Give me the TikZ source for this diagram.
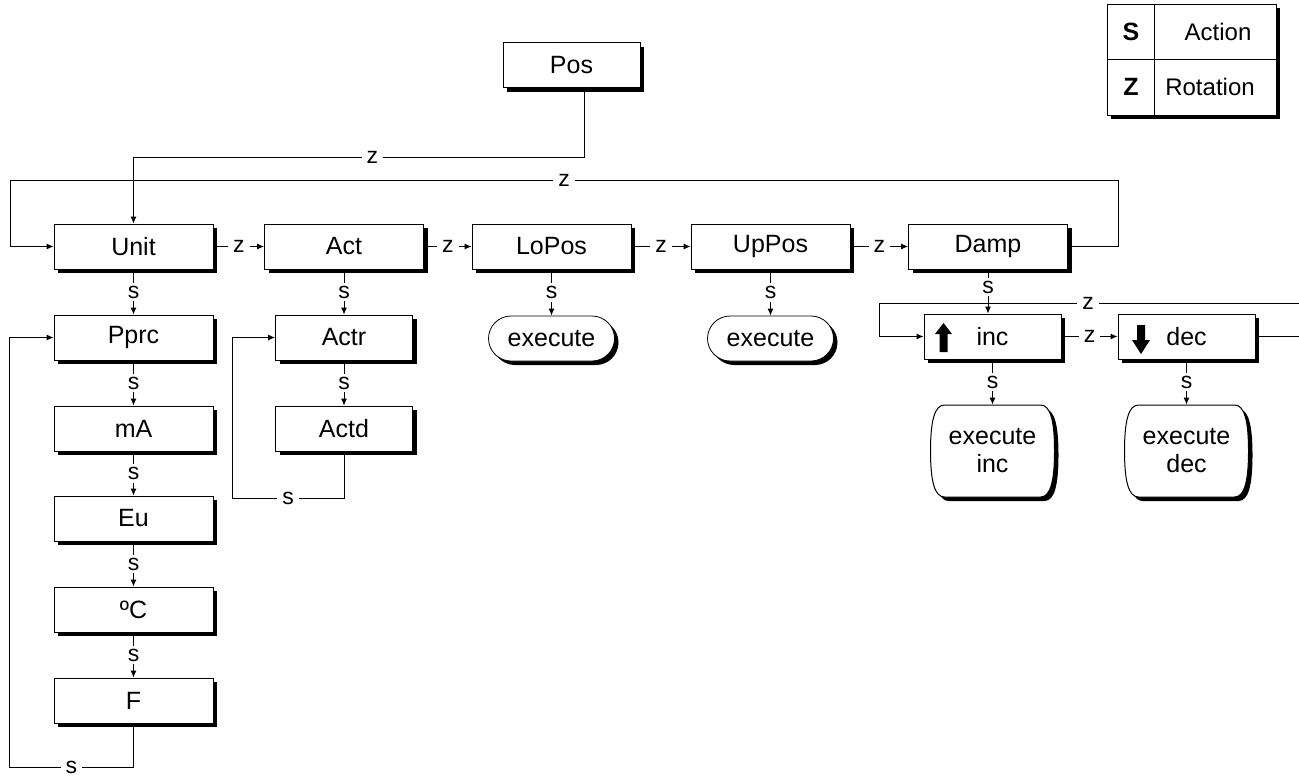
\documentclass[tikz,border=0pt]{standalone}
\usepackage{fontspec}
\setmainfont{Liberation Sans}
\usetikzlibrary{arrows.meta,shadows}

\begin{document}
\begin{tikzpicture}[x=0.5pt,y=-0.5pt,
 box/.style={draw,fill=white,minimum width=79.5pt,minimum height=22.5pt,inner sep=0pt,
  font=\fontsize{12.5}{14}\selectfont,
  drop shadow={shadow xshift=2pt,shadow yshift=-2pt,fill=black,opacity=1}},
 sbox/.style={box,minimum width=68.5pt},
 exe/.style={box,rounded corners=11.25pt,minimum width=63pt},
 txt/.style={align=center,minimum width=62pt,minimum height=46pt,font=\fontsize{12.5}{14}\selectfont},
 lbl/.style={fill=white,inner xsep=2.5pt,inner ysep=1.5pt,font=\fontsize{11.5}{12}\selectfont},
 conn/.style={-{Latex[length=3.5pt,width=3pt]},line width=0.5pt},
 barrel/.pic={
  \fill[black,shift={(4,4)}] (-48,-46) -- (48,-46) .. controls (58,-46) and (62,-30) .. (62,0)
   .. controls (62,30) and (58,46) .. (48,46) -- (-48,46) .. controls (-58,46) and (-62,30) .. (-62,0)
   .. controls (-62,-30) and (-58,-46) .. cycle;
  \draw[fill=white,line width=0.5pt] (-48,-46) -- (48,-46) .. controls (58,-46) and (62,-30) .. (62,0)
   .. controls (62,30) and (58,46) .. (48,46) -- (-48,46) .. controls (-58,46) and (-62,30) .. (-62,0)
   .. controls (-62,-30) and (-58,-46) .. cycle;
 }]
 \useasboundingbox (0,0) rectangle (1299,777);
 \clip (0,0) rectangle (1299,777);

 % key
 \node[box,minimum width=84.5pt,minimum height=55.5pt] (key) at (1191.5,59.5) {};
 \coordinate (kd) at (1154,0);
 \draw (key.west) -- (key.east);
 \draw (key.north -| kd) -- (key.south -| kd);
 \node[font=\bfseries\fontsize{12.5}{14}\selectfont] (kS) at (1131,32) {S};
 \node[font=\bfseries\fontsize{12.5}{14}\selectfont] (kZ) at (1131,87) {Z};
 \node[font=\fontsize{12}{14}\selectfont] (kA) at (1218,32) {Action};
 \node[font=\fontsize{12}{14}\selectfont] (kR) at (1210,87) {Rotation};

 % main row
 \node[sbox] (Pos) at (571.5,65) {Pos};
 \node[box] (Unit) at (133.5,246.5) {Unit};
 \node[box] (Act) at (344,246.5) {Act};
 \node[box] (LoPos) at (551.5,246.5) {LoPos};
 \node[box] (UpPos) at (770.5,246.5) {UpPos};
 \node[box] (Damp) at (988,246.5) {Damp};

 % unit column
 \node[box] (Pprc) at (133.5,337.5) {Pprc};
 \node[box] (mA) at (133.5,428.5) {mA};
 \node[box] (Eu) at (133.5,518.5) {Eu};
 \node[box] (degC) at (133.5,609.5) {ºC};
 \node[box] (F) at (133.5,700.5) {F};

 % act column
 \node[sbox] (Actr) at (344,337.5) {Actr};
 \node[sbox] (Actd) at (344,428.5) {Actd};

 % execute
 \node[exe] (loexe) at (551.5,338.5) {execute};
 \node[exe] (upexe) at (770.5,338.5) {execute};

 % damping
 \node[sbox] (inc) at (992.5,336.5) {inc};
 \node[sbox] (dec) at (1186.5,336.5) {dec};
 \fill (943.5,323) -- (952,334) -- (947.5,334) -- (947.5,352) -- (939.5,352) -- (939.5,334) -- (935,334) -- cycle;
 \fill (1141,354) -- (1150,340) -- (1145,340) -- (1145,325) -- (1137,325) -- (1137,340) -- (1132,340) -- cycle;
 \path (992.5,451) pic{barrel};
 \path (1186.5,451) pic{barrel};
 \node[txt] (incexe) at (992.5,451) {execute\\inc};
 \node[txt] (decexe) at (1186.5,451) {execute\\dec};

 % connectors
 \foreach \a/\b in {Unit/Act,Act/LoPos,LoPos/UpPos,UpPos/Damp,inc/dec}
  \draw[conn] (\a) -- node[lbl]{z} (\b);
 \foreach \a/\b in {Unit/Pprc,Pprc/mA,mA/Eu,Eu/degC,degC/F,Act/Actr,Actr/Actd,LoPos/loexe,UpPos/upexe,inc/incexe,dec/decexe}
  \draw[conn] (\a) -- node[lbl]{s} (\b);

 \coordinate (posz) at (584,157);
 \draw[conn] (Pos.south -| posz) -- (posz) -- node[lbl,pos=0.47]{z} (posz -| Unit.north) -- (Unit.north);
 \coordinate (topr) at (1118,180);
 \coordinate (topl) at (10,180);
 \draw[conn] (Damp.east) -| (topr) -- node[lbl]{z} (topl) |- (Unit.west);

 \draw[conn] (Damp.south) -- node[lbl,pos=0.4]{s} (Damp.south |- inc.north);
 \coordinate (decr) at (1310,303);
 \coordinate (incl) at (879,303);
 \draw[conn] (dec.east) -| (decr) -- node[lbl,pos=0.515]{z} (incl) |- (inc.west);

 \coordinate (Fl) at (9,767);
 \draw[conn] (F.south) |- node[lbl,pos=0.75,inner ysep=0.5pt]{s} (Fl) |- (Pprc.west);
 \coordinate (Al) at (232,498);
 \draw[conn] (Actd.south) |- node[lbl,pos=0.75]{s} (Al) |- (Actr.west);
\end{tikzpicture}
\end{document}
